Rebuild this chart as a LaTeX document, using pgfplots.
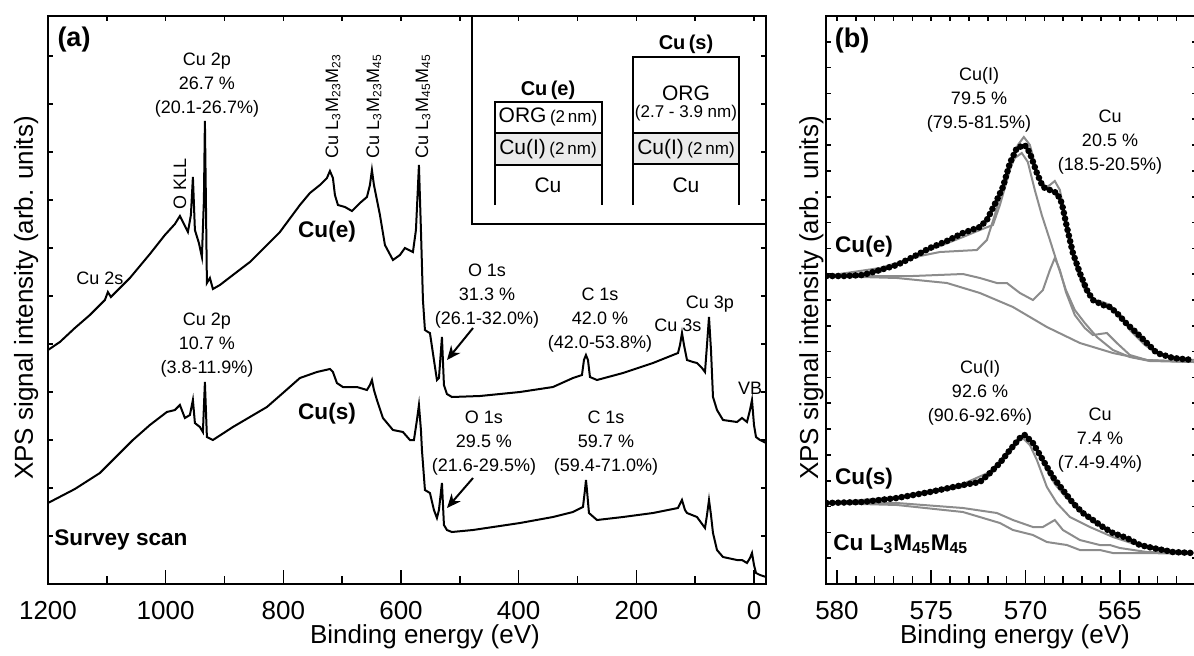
\documentclass[border=0pt]{standalone}
\usepackage{fontspec}
\setmainfont{Liberation Sans}
\usepackage{pgfplots}
\pgfplotsset{compat=1.18}
\usetikzlibrary{arrows.meta}
\definecolor{fitgray}{RGB}{140,140,140}
\definecolor{layergray}{RGB}{235,235,235}
\newcommand{\fa}{\fontsize{9}{12}\selectfont}
\newcommand{\fb}{\bfseries\fontsize{11.3}{13}\selectfont}
\newcommand{\fl}{\fontsize{13}{15}\selectfont}
\begin{document}
\begin{tikzpicture}
\useasboundingbox (0,0) rectangle (597pt,327.5pt);
\pgfplotsset{
  base/.style={scale only axis, height=284pt, ymin=0, ymax=568,
    axis line style={line width=1pt}, tick style={line width=0.8pt, black},
    tick align=inside, yticklabels={}, ytick pos=both, xtick pos=bottom,
    /pgf/number format/assume math mode=true, /pgf/number format/1000 sep={},
    xticklabel style={font=\fl, inner sep=0pt, yshift=-8.5pt},
    major tick length=7pt, minor tick length=4pt,
    ytick style={/pgfplots/major tick length=2.5pt}},
  topt/.style={scale only axis, height=284pt, ymin=0, ymax=568,
    axis x line*=top, axis y line=none, xticklabels={},
    tick style={line width=0.8pt, black}, tick align=inside,
    major tick length=2.5pt, minor tick length=2.5pt},
}
% ---------- left panel ----------
\begin{axis}[base, at={(24pt,35.5pt)}, anchor=south west, width=359pt,
  xmin=-20.4, xmax=1200, x dir=reverse,
  xtick={0,200,...,1200}, minor xtick={100,300,...,1100},
  ytick={48,96,...,528}]
\addplot[black, line width=1pt] coordinates {
(1200,234)(1179.8,242)(1154.3,256)(1128.8,269)(1103.3,284)(1098.2,292)(1093.1,287)(1077.8,296)(1060.8,306)(1043.8,318)(1026.8,330)(1001.3,349)(984.3,360)(975.8,368)(970.7,362)(962.2,352)(957.1,369)(953.7,407)(950.3,354)(943.5,341)(938.4,327)(935,384)(933.3,463)(931.6,384)(929.9,301)(924.8,306)(919.7,295)(907.8,299)(885.7,309)(856.8,322)(839.8,332)(805.8,352)(771.8,379)(754.8,391)(737.8,399)(725.9,406)(720.8,413)(715.7,406)(712.3,389)(707.2,379)(695.3,377)(683.4,373)(669.8,381)(657.9,387)(652.8,399)(649.4,414)(646,399)(640.9,384)(635.8,369)(627.3,339)(613.7,324)(601.8,329)(593.3,336)(579.7,332)(574.6,354)(569.5,419)(566.1,354)(562.7,284)(559.3,254)(554.2,252)(550.8,251)(544,224)(538.9,204)(535.5,206)(530.4,247)(527,199)(521.9,190)(513.4,187)(465.8,188)(397.8,192)(341.7,197)(307.7,206)(292.4,209)(289,224)(285.6,229)(282.2,224)(278.8,207)(266.9,204)(222.7,211)(171.7,221)(129.2,231)(125.8,239)(122.4,251)(119,239)(113.9,224)(103.7,222)(96.9,221)(88.4,216)(83.3,212)(79.9,239)(76.5,267)(73.1,234)(69.7,187)(62.9,174)(52.7,164)(28.9,162)(20.4,166)(11.9,162)(6.8,174)(3.4,184)(0,159)(-3.4,147)(-10.2,144)(-20.4,141)};
\addplot[black, line width=1pt] coordinates {
(1200,81)(1154.3,95)(1111.8,111)(1055.7,144)(1026.8,159)(998,172)(984.3,174)(975.8,179)(967.3,166)(958.8,169)(953.7,184)(950.3,161)(941.8,157)(936.7,152)(933.3,202)(929.9,147)(919.7,144)(885.7,157)(827.9,177)(800.7,191)(771.8,206)(742.9,212)(720.8,215)(715.7,212)(708.9,201)(698.7,197)(674.9,197)(657.9,194)(652.8,199)(649.4,204)(646,194)(640.9,184)(630.7,166)(613.7,154)(596.7,152)(584.8,144)(578,144)(572.9,164)(569.5,179)(566.1,154)(564.4,134)(559.3,94)(550.8,91)(544,74)(538.9,66)(535.5,74)(530.4,101)(527,59)(521.9,54)(513.4,52)(477.7,54)(397.8,61)(341.7,67)(307.7,72)(290.7,77)(287.3,94)(285.6,104)(283.9,94)(280.5,71)(266.9,64)(222.7,67)(171.7,71)(129.2,76)(122.4,84)(117.3,74)(113.9,71)(96.9,67)(83.3,56)(79.9,69)(76.5,84)(73.1,69)(69.7,51)(62.9,34)(52.7,27)(28.9,24)(20.4,24)(11.9,21)(6.8,26)(3.4,31)(0,19)(-3.4,11)(-10.2,9)(-20.4,7)};
\end{axis}
\begin{axis}[topt, at={(24pt,35.5pt)}, anchor=south west, width=359pt,
  xmin=-20.4, xmax=1200, x dir=reverse, xtick={0,100,...,1200}]
\end{axis}
% ---------- right panel ----------
\begin{axis}[base, at={(413pt,35.5pt)}, anchor=south west, width=185.5pt,
  xmin=560.91, xmax=580.58, x dir=reverse,
  xtick={565,570,575,580}, minor xtick={561,562,...,579},
  ytick={25.82,51.64,...,542.3}]
% Cu(e) fits
\addplot[fitgray, line width=1pt] coordinates {(580.58,308)(577.72,312)(575.07,334)(573.32,347)(572.42,354)(571.73,359)(571.36,379)(570.83,414)(570.41,439)(570.09,447)(569.77,439)(569.35,409)(568.98,396)(568.71,399)(568.45,403)(568.18,394)(567.92,369)(567.65,339)(567.28,314)(566.86,294)(566.33,284)(565.90,282)(565.53,279)(565.00,269)(564.47,254)(563.68,239)(562.88,229)(562.09,226)(561.08,224)};
\addplot[fitgray, line width=1pt] coordinates {(580.58,308)(577.72,316)(575.60,328)(574.54,332)(572.58,334)(572.05,344)(571.63,369)(571.10,404)(570.57,426)(570.20,431)(569.88,422)(569.51,394)(569.14,369)(568.71,344)(568.29,319)(567.86,294)(567.39,274)(566.86,261)(566.22,247)(565.37,234)(564.47,227)(563.41,223)(561.08,222)};
\addplot[fitgray, line width=1pt] coordinates {(580.58,308)(575.97,308)(573.32,310)(572.42,306)(571.52,301)(570.99,301)(570.30,291)(569.61,284)(569.08,294)(568.71,314)(568.45,326)(568.18,314)(567.86,292)(567.39,269)(566.86,256)(566.43,249)(566.06,250)(565.69,251)(565.16,241)(564.47,229)(563.57,224)(561.08,222)};
\addplot[fitgray, line width=1pt] coordinates {(580.58,308)(576.82,306)(574.17,301)(572.42,291)(570.67,277)(568.87,257)(567.12,241)(565.37,231)(563.57,224)(561.08,222)};
% Cu(s) fits
\addplot[fitgray, line width=1pt] coordinates {(580.58,81)(576.82,87)(573.32,100)(571.89,112)(570.83,135)(570.30,147)(570.04,150)(569.51,138)(568.98,118)(568.45,100)(567.92,88)(567.28,76)(566.43,62)(565.37,51)(563.94,40)(562.19,33)(561.08,31)};
\addplot[fitgray, line width=1pt] coordinates {(580.58,81)(576.66,86)(573.32,97)(571.89,109)(570.83,132)(570.20,147)(569.77,139)(569.40,124)(568.87,97)(568.34,81)(567.65,67)(566.59,57)(565.37,47)(563.57,36)(561.08,31)};
\addplot[fitgray, line width=1pt] coordinates {(580.58,81)(576.82,81)(573.32,76)(571.52,71)(570.67,64)(569.61,57)(569.08,57)(568.45,64)(568.02,54)(567.12,44)(566.06,39)(565.53,39)(565.00,36)(563.57,32)(561.13,31)};
\addplot[fitgray, line width=1pt] coordinates {(580.58,81)(576.82,79)(573.32,72)(571.36,61)(570.67,54)(569.61,49)(568.87,42)(567.81,39)(567.12,34)(566.06,34)(565.37,31)(563.57,31)(561.13,30)};
% data dots
\addplot[black, line width=3.3pt, line cap=round, dash pattern=on 0pt off 2.9pt] coordinates {(580.55,308)(579.58,308)(578.62,309)(577.72,314)(576.82,319)(575.97,327)(575.07,336)(574.17,343)(573.32,351)(572.42,357)(572.05,364)(571.52,384)(571.20,397)(570.83,421)(570.46,436)(570.04,439)(569.77,431)(569.40,411)(569.08,397)(568.71,394)(568.34,391)(568.08,381)(567.81,357)(567.49,331)(567.12,311)(566.75,294)(566.43,284)(565.90,279)(565.53,277)(565.16,271)(564.63,260)(564.10,251)(563.57,241)(563.04,231)(562.19,226)(561.13,224)};
\addplot[black, line width=3.3pt, line cap=round, dash pattern=on 0pt off 2.9pt] coordinates {(580.55,81)(578.62,82)(576.82,86)(575.07,92)(573.32,99)(572.42,102)(571.89,111)(571.36,121)(570.83,134)(570.30,146)(570.04,149)(569.61,141)(569.08,124)(568.55,107)(568.02,94)(567.49,81)(566.96,71)(566.43,64)(565.90,57)(565.37,51)(564.63,46)(563.94,39)(563.25,36)(562.19,32)(561.13,31)};
\end{axis}
\begin{axis}[topt, at={(413pt,35.5pt)}, anchor=south west, width=185.5pt,
  xmin=560.91, xmax=580.58, x dir=reverse, xtick={561,562,...,580}]
\end{axis}
% ---------- annotations (pixel frame) ----------
\begin{scope}[x=0.5pt, y=-0.5pt, shift={(0pt,327.5pt)}]
\tikzset{every node/.style={inner sep=0pt}}
% axis labels
\node[font=\fl, anchor=base] at (425,643) {Binding energy (eV)};
\node[font=\fl, anchor=base] at (1015,643) {Binding energy (eV)};
\node[font=\fl, anchor=base, rotate=90] at (33,298) {XPS signal intensity (arb. units)};
\node[font=\fl, anchor=base, rotate=90] at (818,298) {XPS signal intensity (arb. units)};
% panel letters and bold labels
\node[font=\bfseries\fontsize{13.5}{15}\selectfont] at (74,40) {(a)};
\node[font=\bfseries\fontsize{13.5}{15}\selectfont] at (852,41) {(b)};
\node[font=\fb] at (327,232) {Cu(e)};
\node[font=\fb] at (327,414) {Cu(s)};
\node[font=\fb] at (121,540) {Survey scan};
\node[font=\fb] at (864,247) {Cu(e)};
\node[font=\fb] at (864,479) {Cu(s)};
\node[font=\fb, anchor=base west] at (833,550) {Cu L\textsubscript{3}M\textsubscript{45}M\textsubscript{45}};
% left annotations
\node[font=\fa, align=center] at (207,85) {Cu 2p\\26.7 \%\\(20.1-26.7\%)};
\node[font=\fa, align=center] at (207,345) {Cu 2p\\10.7 \%\\(3.8-11.9\%)};
\node[font=\fa, align=center] at (487,296) {O 1s\\31.3 \%\\(26.1-32.0\%)};
\node[font=\fa, align=center] at (600,320) {C 1s\\42.0 \%\\(42.0-53.8\%)};
\node[font=\fa, align=center] at (484,443) {O 1s\\29.5 \%\\(21.6-29.5\%)};
\node[font=\fa, align=center] at (606,443) {C 1s\\59.7 \%\\(59.4-71.0\%)};
\node[font=\fa] at (100,278) {Cu 2s};
\node[font=\fa] at (678,325) {Cu 3s};
\node[font=\fa] at (710,304) {Cu 3p};
\node[font=\fa] at (750,388) {VB};
\node[font=\fa, rotate=90] at (180,184) {O KLL};
\node[font=\fa, rotate=90] at (333,106) {Cu L\textsubscript{3}M\textsubscript{23}M\textsubscript{23}};
\node[font=\fa, rotate=90] at (374,106) {Cu L\textsubscript{3}M\textsubscript{23}M\textsubscript{45}};
\node[font=\fa, rotate=90] at (423,106) {Cu L\textsubscript{3}M\textsubscript{45}M\textsubscript{45}};
\draw[line width=1pt, -{Stealth[length=7pt, width=6pt]}] (473,328) -- (447,360);
\draw[line width=1pt, -{Stealth[length=7pt, width=6pt]}] (473,478) -- (447,508);
% right annotations
\node[font=\fa, align=center] at (979,100) {Cu(I)\\79.5 \%\\(79.5-81.5\%)};
\node[font=\fa, align=center] at (1110,142) {Cu\\20.5 \%\\(18.5-20.5\%)};
\node[font=\fa, align=center] at (980,393) {Cu(I)\\92.6 \%\\(90.6-92.6\%)};
\node[font=\fa, align=center] at (1100,440) {Cu\\7.4 \%\\(7.4-9.4\%)};
% inset
\draw[line width=0.9pt] (472,16) -- (472,224) -- (766,224);
\fill[layergray] (495,133) rectangle (602,165);
\fill[layergray] (633,133) rectangle (739,164);
\draw[line width=1pt] (495,205) -- (495,102) -- (602,102) -- (602,205);
\draw[line width=1pt] (495,133) -- (602,133) (495,165) -- (602,165);
\draw[line width=1pt] (633,205) -- (633,57) -- (739,57) -- (739,205);
\draw[line width=1pt] (633,133) -- (739,133) (633,164) -- (739,164);
\node[font=\bfseries\fontsize{10}{12}\selectfont] at (548,90) {Cu\,(e)};
\node[font=\bfseries\fontsize{10}{12}\selectfont] at (686,44) {Cu\,(s)};
\node[font=\fontsize{10.5}{12}\selectfont] at (548,117) {ORG\,{\fontsize{8.5}{10}\selectfont(2\,nm)}};
\node[font=\fontsize{10.5}{12}\selectfont] at (548,149) {Cu(I)\,{\fontsize{8.5}{10}\selectfont(2\,nm)}};
\node[font=\fontsize{10.5}{12}\selectfont] at (548,185) {Cu};
\node[font=\fontsize{10.5}{12}\selectfont] at (686,93) {ORG};
\node[font=\fontsize{8.5}{10}\selectfont] at (686,113) {(2.7 - 3.9 nm)};
\node[font=\fontsize{10.5}{12}\selectfont] at (686,149) {Cu(I)\,{\fontsize{8.5}{10}\selectfont(2\,nm)}};
\node[font=\fontsize{10.5}{12}\selectfont] at (686,185) {Cu};
\end{scope}
\end{tikzpicture}
\end{document}
